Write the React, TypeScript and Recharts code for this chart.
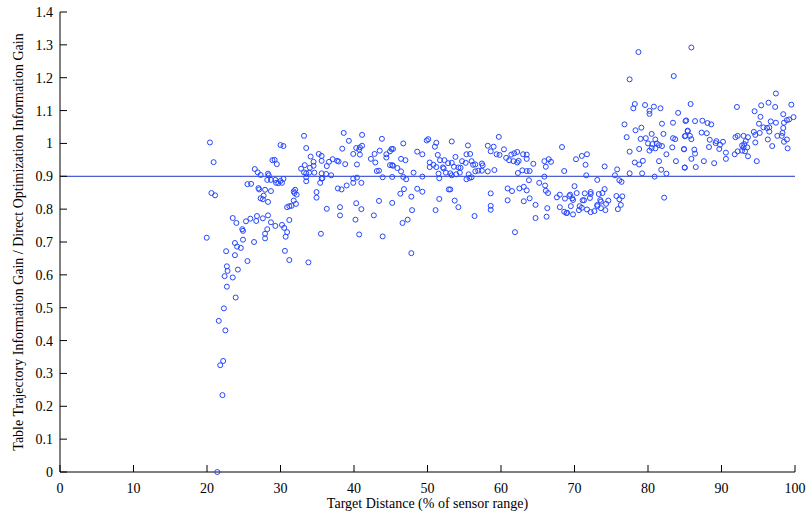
import React from 'react';
import { ScatterChart, Scatter, XAxis, YAxis, ReferenceLine } from 'recharts';

// [target distance (% of sensor range), table / direct information gain]
const rampPoints: [number, number][] = [
  [20.4, 1.003], [20.9, 0.943], [20.6, 0.849], [21.1, 0.842], [19.96, 0.713], [21.4, 0.0],
  [22.1, 0.234], [21.8, 0.325], [22.2, 0.338], [21.6, 0.46], [22.5, 0.431], [22.3, 0.498],
  [23.9, 0.531], [22.7, 0.564], [22.4, 0.596], [23.5, 0.592], [22.7, 0.626], [22.8, 0.612],
  [24.2, 0.616], [25.5, 0.642], [22.6, 0.672], [23.8, 0.66], [23.8, 0.697], [24.1, 0.686],
  [24.6, 0.682], [24.9, 0.707], [26.4, 0.7], [23.5, 0.773], [24.0, 0.758], [24.8, 0.739],
  [24.9, 0.734], [25.3, 0.763], [25.9, 0.771], [26.8, 0.779], [26.7, 0.764], [27.6, 0.772],
  [28.3, 0.781], [28.7, 0.76], [28.2, 0.739], [27.9, 0.725], [27.9, 0.711], [29.3, 0.749],
  [25.5, 0.876], [26.0, 0.877], [27.0, 0.864], [27.1, 0.86], [27.9, 0.859], [28.7, 0.855],
  [27.3, 0.833], [27.7, 0.841], [27.6, 0.83], [28.3, 0.822], [26.5, 0.922], [26.9, 0.912],
  [27.3, 0.904], [28.3, 0.908], [28.4, 0.903], [28.2, 0.889], [28.7, 0.889], [29.3, 0.889],
  [29.4, 0.88], [29.7, 0.879], [30.0, 0.886], [30.2, 0.88], [30.4, 0.892], [29.2, 0.95],
  [29.5, 0.937], [30.0, 0.995], [30.4, 0.992], [28.9, 0.949], [31.8, 0.854], [32.0, 0.859],
  [31.9, 0.849], [32.2, 0.844], [32.1, 0.816], [31.8, 0.826], [31.2, 0.809], [30.9, 0.806],
  [31.5, 0.81], [31.2, 0.767], [30.2, 0.752], [30.5, 0.743], [30.9, 0.73], [30.7, 0.716],
  [30.6, 0.673], [31.2, 0.645], [33.8, 0.638], [33.2, 1.023], [33.5, 0.986], [34.1, 0.96],
  [34.5, 0.944], [34.5, 0.932], [33.3, 0.934], [32.8, 0.923], [33.2, 0.912], [33.5, 0.909],
  [33.5, 0.897], [33.5, 0.885], [34.0, 0.926], [33.9, 0.911], [34.6, 0.911], [34.9, 0.852],
  [34.9, 0.835],
];

const plateauPoints: [number, number][] = [
  [35.5, 0.725], [35.2, 0.968], [35.6, 0.962], [35.6, 0.947], [35.4, 0.88], [35.6, 0.893],
  [38.6, 1.032], [41.1, 1.026], [39.3, 1.008], [43.8, 1.014], [38.4, 0.984], [40.3, 0.986],
  [40.8, 0.988], [41.1, 0.993], [40.7, 0.981], [39.9, 0.968], [40.8, 0.966], [36.3, 0.931],
  [36.6, 0.944], [37.1, 0.952], [37.7, 0.947], [37.9, 0.945], [38.8, 0.937], [40.4, 0.936],
  [35.6, 0.909], [36.2, 0.907], [36.9, 0.903], [35.7, 0.894], [39.9, 0.893], [40.4, 0.896],
  [41.0, 0.88], [37.8, 0.863], [38.3, 0.86], [39.0, 0.872], [42.8, 0.968], [42.3, 0.953],
  [42.9, 0.942], [43.5, 0.978], [44.4, 0.967], [44.4, 0.957], [44.9, 0.976], [45.1, 0.983],
  [45.3, 0.983], [44.9, 0.934], [45.2, 0.934], [45.3, 0.932], [45.9, 0.925], [46.4, 0.915],
  [43.1, 0.916], [43.4, 0.917], [43.9, 0.897], [45.2, 0.898], [46.7, 1.0], [46.4, 0.953],
  [47.0, 0.949], [46.7, 0.898], [47.1, 0.891], [48.1, 0.911], [48.6, 0.975], [49.3, 0.967],
  [49.9, 1.009], [50.1, 1.013], [51.2, 1.002], [51.0, 0.99], [51.4, 0.965], [51.7, 0.949],
  [52.3, 0.949], [50.3, 0.942], [50.3, 0.928], [50.8, 0.935], [51.2, 0.928], [52.2, 0.924],
  [51.5, 0.908], [52.5, 0.911], [51.6, 0.894], [49.3, 0.899], [48.6, 0.862], [49.3, 0.853],
  [46.8, 0.861], [46.3, 0.847], [47.8, 0.838], [39.9, 0.88], [43.4, 0.825], [45.2, 0.819],
  [51.6, 0.831], [52.9, 0.86], [36.3, 0.801], [38.1, 0.806], [38.1, 0.781], [40.3, 0.818],
  [41.0, 0.8], [40.2, 0.768], [42.7, 0.781], [47.9, 0.797], [51.1, 0.797], [47.3, 0.768],
  [46.6, 0.758], [40.7, 0.723], [43.9, 0.717], [47.8, 0.666],
  [59.7, 1.02], [53.3, 1.006], [55.5, 0.994], [58.2, 0.993], [59.0, 0.99], [58.6, 0.976],
  [60.4, 0.982], [55.3, 0.967], [55.8, 0.968], [53.8, 0.959], [59.4, 0.967], [59.8, 0.965],
  [61.4, 0.966], [62.2, 0.974], [61.8, 0.97], [63.0, 0.967], [63.5, 0.966], [63.5, 0.953],
  [60.7, 0.956], [61.1, 0.949], [61.7, 0.946], [62.4, 0.947], [62.2, 0.942], [64.4, 0.938],
  [65.9, 0.946], [66.5, 0.952], [66.8, 0.944], [66.1, 0.929], [52.8, 0.94], [53.3, 0.941],
  [54.7, 0.946], [55.2, 0.941], [56.0, 0.946], [56.2, 0.935], [56.5, 0.936], [57.4, 0.939],
  [57.5, 0.933], [53.6, 0.929], [54.2, 0.927], [54.5, 0.926], [52.1, 0.927], [56.9, 0.917],
  [57.4, 0.917], [58.2, 0.915], [59.1, 0.919], [56.5, 0.915], [53.1, 0.909], [53.3, 0.903],
  [53.9, 0.906], [54.4, 0.911], [55.6, 0.906], [55.7, 0.895], [56.0, 0.897], [55.3, 0.891],
  [62.3, 0.91], [62.9, 0.918], [63.5, 0.916], [63.9, 0.916], [65.9, 0.899], [63.8, 0.888],
  [65.2, 0.88], [66.0, 0.872], [63.1, 0.868], [62.5, 0.863], [63.5, 0.857], [60.9, 0.863],
  [61.5, 0.855], [58.6, 0.848], [53.1, 0.86], [53.7, 0.826], [54.2, 0.806], [58.6, 0.81],
  [58.6, 0.798], [56.4, 0.779], [60.9, 0.827], [63.1, 0.824], [63.9, 0.833], [66.1, 0.856],
  [66.4, 0.849], [64.7, 0.813], [66.3, 0.803], [66.2, 0.777], [64.7, 0.773], [61.9, 0.73],
];

const dipPoints: [number, number][] = [
  [68.3, 0.989], [68.6, 0.916], [68.0, 0.844], [67.6, 0.836], [68.7, 0.832], [69.3, 0.84],
  [68.0, 0.806], [68.6, 0.792], [69.0, 0.789], [70.2, 0.952], [71.0, 0.962], [71.7, 0.967],
  [71.5, 0.935], [74.1, 0.93], [75.8, 0.921], [71.6, 0.903], [75.5, 0.903], [73.1, 0.889],
  [76.1, 0.888], [76.4, 0.883], [70.0, 0.87], [74.1, 0.861], [73.8, 0.849], [73.3, 0.846],
  [72.2, 0.852], [72.2, 0.846], [71.4, 0.848], [70.3, 0.849], [69.4, 0.844], [69.7, 0.833],
  [69.8, 0.828], [71.1, 0.827], [71.3, 0.827], [72.1, 0.834], [73.5, 0.828], [73.6, 0.823],
  [74.6, 0.826], [74.3, 0.816], [73.1, 0.813], [73.1, 0.809], [75.7, 0.84], [76.5, 0.839],
  [76.1, 0.83], [76.3, 0.813], [75.9, 0.8], [69.5, 0.809], [70.7, 0.809], [71.0, 0.804],
  [70.6, 0.797], [71.7, 0.799], [72.2, 0.791], [72.7, 0.794], [73.6, 0.803], [74.2, 0.797],
  [68.9, 0.788], [69.8, 0.784],
];

const farPoints: [number, number][] = [
  [76.8, 1.058], [81.9, 1.06], [83.4, 1.063], [85.1, 1.068], [79.1, 1.048], [78.3, 1.04],
  [77.1, 1.019], [79.0, 1.014], [79.7, 1.016], [80.5, 1.029], [81.0, 1.012], [82.1, 1.029],
  [83.4, 1.016], [83.7, 1.013], [85.1, 1.023], [85.4, 1.037], [80.0, 1.0], [80.6, 0.998],
  [81.2, 1.0], [81.5, 0.995], [81.0, 0.985], [81.9, 0.992], [80.5, 0.986], [80.2, 0.978],
  [83.3, 0.988], [84.9, 0.982], [78.8, 0.983], [77.5, 0.975], [82.5, 0.967], [83.8, 0.946],
  [78.2, 0.942], [78.8, 0.936], [79.3, 0.947], [81.5, 0.946], [81.8, 0.92], [85.0, 0.926],
  [77.5, 0.909], [79.2, 0.909], [82.5, 0.908], [80.9, 0.899], [82.2, 0.835], [78.7, 1.278],
  [77.5, 1.195], [83.5, 1.205], [78.2, 1.12], [78.0, 1.107], [79.6, 1.117], [80.2, 1.099],
  [80.2, 1.09], [80.8, 1.112], [81.7, 1.107], [84.1, 1.093], [85.9, 1.292], [85.8, 1.12],
  [92.1, 1.111], [97.4, 1.152], [94.5, 1.098], [95.4, 1.116], [96.4, 1.124], [97.3, 1.111],
  [99.5, 1.118], [98.4, 1.089], [95.3, 1.081], [96.7, 1.067], [97.4, 1.063], [98.5, 1.063],
  [98.9, 1.071], [99.2, 1.073], [99.8, 1.08], [95.1, 1.06], [95.7, 1.049], [96.2, 1.047],
  [96.5, 1.049], [96.5, 1.036], [95.2, 1.032], [94.4, 1.035], [94.6, 1.026], [94.6, 1.003],
  [96.3, 1.012], [96.9, 0.992], [97.6, 1.023], [98.2, 1.023], [98.4, 1.047], [98.3, 1.032],
  [98.5, 1.005], [98.9, 1.012], [99.0, 0.985], [85.2, 1.07], [86.4, 1.068], [87.4, 1.069],
  [88.1, 1.062], [88.6, 1.058], [85.4, 1.039], [85.0, 1.022], [85.7, 1.023], [85.9, 1.013],
  [87.3, 1.033], [88.0, 1.031], [88.4, 1.011], [89.2, 1.001], [89.3, 1.007], [89.8, 0.996],
  [90.2, 1.005], [88.3, 0.989], [89.7, 0.983], [90.6, 0.972], [90.6, 0.953], [89.0, 0.94],
  [84.9, 0.983], [86.3, 0.981], [86.4, 0.969], [85.9, 0.953], [87.6, 0.946], [85.0, 0.927],
  [86.5, 0.928], [91.9, 1.019], [92.2, 1.023], [93.0, 1.023], [93.6, 1.019], [93.3, 1.007],
  [93.1, 0.998], [92.8, 0.994], [93.0, 0.988], [93.2, 0.976], [93.5, 0.988], [92.8, 0.978],
  [92.2, 0.976], [91.8, 0.967], [93.6, 0.961], [94.8, 0.946],
];

const xTicks = [0, 10, 20, 30, 40, 50, 60, 70, 80, 90, 100];
const yTicks = [0, 0.1, 0.2, 0.3, 0.4, 0.5, 0.6, 0.7, 0.8, 0.9, 1, 1.1, 1.2, 1.3, 1.4];
const threshold = 0.9;

const data = [...rampPoints, ...plateauPoints, ...dipPoints, ...farPoints].map(([distance, ratio]) => ({
  distance,
  ratio,
}));

const FONT = '"Liberation Serif", "DejaVu Serif", serif';
const tickStyle = { fontFamily: FONT, fontSize: 14, fill: '#000' };

const Ring = (props: any) => (
  <circle cx={props.cx} cy={props.cy} r={2.5} fill="none" stroke="#2546ff" strokeWidth={1} />
);

const App: React.FC = () => {
  return (
    <div style={{ position: 'absolute', left: 0, top: 0, width: 807, height: 519, background: '#fff' }}>
      <ScatterChart width={807} height={519} margin={{ top: 12, right: 12, bottom: 0, left: 0 }}>
        <XAxis
          type="number"
          dataKey="distance"
          domain={[0, 100]}
          ticks={xTicks}
          height={47}
          tickSize={-7}
          tickMargin={18}
          tick={tickStyle}
          axisLine={{ stroke: '#000' }}
          tickLine={{ stroke: '#000' }}
          label={{
            value: 'Target Distance (% of sensor range)',
            position: 'insideBottom',
            offset: 11,
            style: { fontFamily: FONT, fontSize: 14, fill: '#000' },
          }}
        />
        <YAxis
          type="number"
          dataKey="ratio"
          domain={[0, 1.4]}
          ticks={yTicks}
          width={60}
          tickSize={-7}
          tickMargin={14}
          tick={tickStyle}
          axisLine={{ stroke: '#000' }}
          tickLine={{ stroke: '#000' }}
          label={{
            value: 'Table Trajectory Information Gain / Direct Optimization Information Gain',
            angle: -90,
            position: 'insideLeft',
            offset: 18,
            style: { fontFamily: FONT, fontSize: 14, fill: '#000', textAnchor: 'middle' },
          }}
        />
        <ReferenceLine y={threshold} stroke="#1f35c8" strokeWidth={1} />
        <Scatter data={data} shape={Ring} isAnimationActive={false} />
      </ScatterChart>
    </div>
  );
};

export default App;
